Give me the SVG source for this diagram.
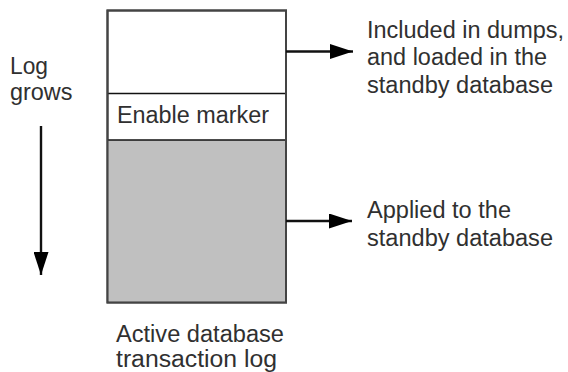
<svg xmlns="http://www.w3.org/2000/svg" width="568" height="372" viewBox="0 0 568 372">
<style>
text{font-family:"Liberation Sans",Arial,sans-serif;font-size:23px;fill:#303030}
.ln{stroke:#111;stroke-width:2.4;fill:none}
</style>
<defs>
<marker id="ah" viewBox="0 0 23 15" refX="23" refY="7.5" markerWidth="23" markerHeight="15" markerUnits="userSpaceOnUse" orient="auto">
<path d="M0,0 L23,7.5 L0,15 Z" fill="#000"/>
</marker>
</defs>
<rect width="568" height="372" fill="#fff"/>
<g id="log">
<rect x="107.5" y="10.5" width="178.5" height="292" fill="#fff" stroke="#444" stroke-width="2"/>
<rect x="108.5" y="140" width="176.5" height="161.5" fill="#c0c0c0"/>
<line x1="107.5" y1="93.5" x2="286" y2="93.5" stroke="#111" stroke-width="1.5"/>
<line x1="107.5" y1="140" x2="286" y2="140" stroke="#111" stroke-width="1.5"/>
<rect x="107.5" y="10.5" width="178.5" height="292" fill="none" stroke="#444" stroke-width="2"/>
<text x="117" y="123" textLength="152" lengthAdjust="spacingAndGlyphs">Enable marker</text>
</g>
<g id="caption">
<text x="116" y="341.5" textLength="168" lengthAdjust="spacingAndGlyphs">Active database</text>
<text x="116" y="366.5" textLength="161" lengthAdjust="spacingAndGlyphs">transaction log</text>
</g>
<g id="growth">
<text x="10" y="74" textLength="38" lengthAdjust="spacingAndGlyphs">Log</text>
<text x="10" y="99.5" textLength="62.5" lengthAdjust="spacingAndGlyphs">grows</text>
</g>
<g id="dumps">
<text x="367" y="37.5" textLength="197" lengthAdjust="spacingAndGlyphs">Included in dumps,</text>
<text x="367" y="65" textLength="180" lengthAdjust="spacingAndGlyphs">and loaded in the</text>
<text x="367" y="92.5" textLength="186" lengthAdjust="spacingAndGlyphs">standby database</text>
</g>
<g id="applied">
<text x="367" y="218" textLength="144" lengthAdjust="spacingAndGlyphs">Applied to the</text>
<text x="367" y="245.5" textLength="186" lengthAdjust="spacingAndGlyphs">standby database</text>
</g>
<g id="connectors">
<line class="ln" x1="41" y1="126" x2="41" y2="275" marker-end="url(#ah)"/>
<line class="ln" x1="286" y1="51.5" x2="353" y2="51.5" marker-end="url(#ah)"/>
<line class="ln" x1="286" y1="221" x2="352" y2="221" marker-end="url(#ah)"/>
</g>
</svg>
